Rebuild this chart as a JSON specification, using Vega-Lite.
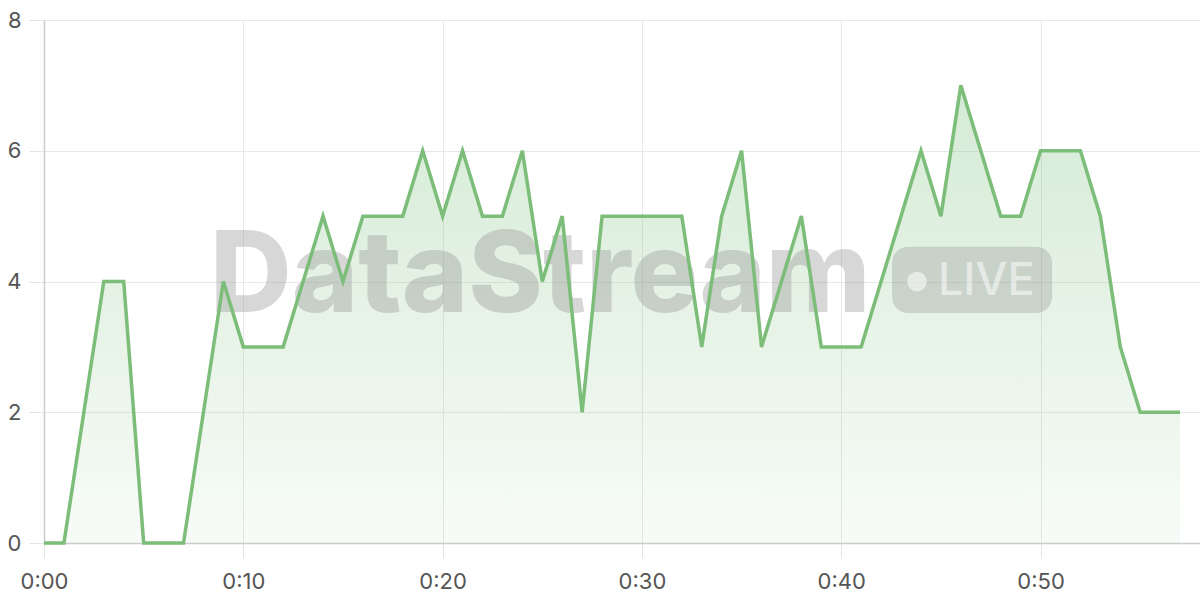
{
  "$schema": "https://vega.github.io/schema/vega-lite/v6.json",
  "width": 1156,
  "height": 523,
  "autosize": {"type": "none"},
  "padding": {"left": 44, "top": 20, "right": 0, "bottom": 57},
  "background": "#ffffff",
  "config": {
    "view": {"stroke": null},
    "axis": {
      "labelFont": "Inter",
      "labelFontSize": 22,
      "labelColor": "#555555",
      "gridColor": "#e8e8e8",
      "tickColor": "#e4e4e4",
      "tickSize": 15,
      "domainColor": "#cccccc",
      "domainWidth": 1.5,
      "title": null
    }
  },
  "datasets": {
    "counts": [
      {"minute": 0, "count": 0}, {"minute": 1, "count": 0}, {"minute": 2, "count": 2},
      {"minute": 3, "count": 4}, {"minute": 4, "count": 4}, {"minute": 5, "count": 0},
      {"minute": 6, "count": 0}, {"minute": 7, "count": 0}, {"minute": 8, "count": 2},
      {"minute": 9, "count": 4}, {"minute": 10, "count": 3}, {"minute": 11, "count": 3},
      {"minute": 12, "count": 3}, {"minute": 13, "count": 4}, {"minute": 14, "count": 5},
      {"minute": 15, "count": 4}, {"minute": 16, "count": 5}, {"minute": 17, "count": 5},
      {"minute": 18, "count": 5}, {"minute": 19, "count": 6}, {"minute": 20, "count": 5},
      {"minute": 21, "count": 6}, {"minute": 22, "count": 5}, {"minute": 23, "count": 5},
      {"minute": 24, "count": 6}, {"minute": 25, "count": 4}, {"minute": 26, "count": 5},
      {"minute": 27, "count": 2}, {"minute": 28, "count": 5}, {"minute": 29, "count": 5},
      {"minute": 30, "count": 5}, {"minute": 31, "count": 5}, {"minute": 32, "count": 5},
      {"minute": 33, "count": 3}, {"minute": 34, "count": 5}, {"minute": 35, "count": 6},
      {"minute": 36, "count": 3}, {"minute": 37, "count": 4}, {"minute": 38, "count": 5},
      {"minute": 39, "count": 3}, {"minute": 40, "count": 3}, {"minute": 41, "count": 3},
      {"minute": 42, "count": 4}, {"minute": 43, "count": 5}, {"minute": 44, "count": 6},
      {"minute": 45, "count": 5}, {"minute": 46, "count": 7}, {"minute": 47, "count": 6},
      {"minute": 48, "count": 5}, {"minute": 49, "count": 5}, {"minute": 50, "count": 6},
      {"minute": 51, "count": 6}, {"minute": 52, "count": 6}, {"minute": 53, "count": 5},
      {"minute": 54, "count": 3}, {"minute": 55, "count": 2}, {"minute": 56, "count": 2},
      {"minute": 57, "count": 2}
    ],
    "watermark": [{"label": "DataStream", "badge": "LIVE"}]
  },
  "layer": [
    {
      "data": {"name": "counts"},
      "mark": {
        "type": "area",
        "color": {
          "gradient": "linear",
          "x1": 0, "y1": 0, "x2": 0, "y2": 1,
          "stops": [
            {"offset": 0, "color": "rgba(124,191,124,0.32)"},
            {"offset": 1, "color": "rgba(124,191,124,0.06)"}
          ]
        }
      },
      "encoding": {
        "x": {
          "field": "minute",
          "type": "quantitative",
          "scale": {"domain": [0, 58], "nice": false, "zero": false},
          "axis": {
            "values": [0, 10, 20, 30, 40, 50],
            "labelExpr": "'0:' + (datum.value < 10 ? '0' : '') + datum.value",
            "labelPadding": 13,
            "labelFlush": false
          }
        },
        "y": {
          "field": "count",
          "type": "quantitative",
          "scale": {"domain": [0, 8], "nice": false},
          "axis": {"values": [0, 2, 4, 6, 8], "format": "d", "labelPadding": 8}
        }
      }
    },
    {
      "data": {"name": "watermark"},
      "mark": {"type": "rect", "fill": "#8c8c8c", "fillOpacity": 0.3, "cornerRadius": 16},
      "encoding": {
        "x": {"datum": 42.55},
        "x2": {"datum": 50.58},
        "y": {"datum": 3.52},
        "y2": {"datum": 4.53}
      }
    },
    {
      "data": {"name": "watermark"},
      "mark": {"type": "text", "font": "Inter", "fontWeight": 800, "fontSize": 113, "align": "left", "baseline": "alphabetic", "fill": "#969696", "fillOpacity": 0.38},
      "encoding": {
        "text": {"field": "label"},
        "x": {"datum": 8.33},
        "y": {"datum": 3.53}
      }
    },
    {
      "data": {"name": "watermark"},
      "mark": {"type": "point", "filled": true, "shape": "circle", "size": 380, "fill": "#ffffff", "fillOpacity": 0.55, "strokeWidth": 0},
      "encoding": {
        "x": {"datum": 43.8},
        "y": {"datum": 4.0}
      }
    },
    {
      "data": {"name": "watermark"},
      "mark": {"type": "text", "font": "Inter", "fontWeight": 500, "fontSize": 45, "align": "left", "baseline": "alphabetic", "fill": "#ffffff", "fillOpacity": 0.55},
      "encoding": {
        "text": {"field": "badge"},
        "x": {"datum": 44.85},
        "y": {"datum": 3.79}
      }
    },
    {
      "data": {"name": "counts"},
      "mark": {"type": "line", "color": "#7dbd7a", "strokeWidth": 3.5, "strokeJoin": "miter"},
      "encoding": {
        "x": {"field": "minute", "type": "quantitative"},
        "y": {"field": "count", "type": "quantitative"}
      }
    }
  ]
}
